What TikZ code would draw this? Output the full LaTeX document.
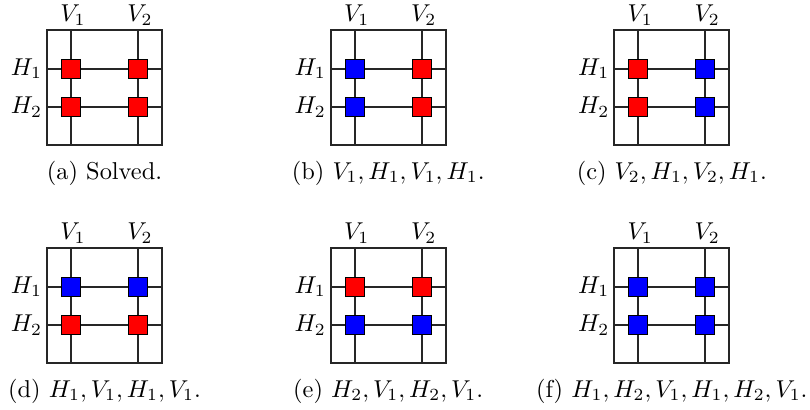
\documentclass[tikz,border=0pt]{standalone}
\begin{document}
\begin{tikzpicture}[x=0.41pt,y=-0.41pt,
  gridline/.style={line width=0.75pt,draw=black!85},
  cell/.style={draw=black,line width=0.4pt,minimum size=7.7pt,inner sep=0pt,anchor=center},
  lbl/.style={inner sep=0pt,anchor=base},
  hlbl/.style={inner sep=0pt,anchor=base east},
  captxt/.style={inner sep=0pt,anchor=base}]
\useasboundingbox (0,0) rectangle (810,409);
\newcommand\mypanel[7]{%
  \begin{scope}[shift={(#1,#2)}]
    \coordinate (#7fa) at (0,0);
    \coordinate (#7fb) at (115,115);
    \coordinate (#7v1t) at (24,0);  \coordinate (#7v1b) at (24,115);
    \coordinate (#7v2t) at (91,0);  \coordinate (#7v2b) at (91,115);
    \coordinate (#7h1l) at (0,38.3); \coordinate (#7h1r) at (115,38.3);
    \coordinate (#7h2l) at (0,76.7); \coordinate (#7h2r) at (115,76.7);
    \draw[gridline] (#7fa) rectangle (#7fb);
    \draw[gridline] (#7v1t) -- (#7v1b);
    \draw[gridline] (#7v2t) -- (#7v2b);
    \draw[gridline] (#7h1l) -- (#7h1r);
    \draw[gridline] (#7h2l) -- (#7h2r);
    \node[cell,fill=#3] (#7s11) at (24,38.3) {};
    \node[cell,fill=#4] (#7s12) at (91,38.3) {};
    \node[cell,fill=#5] (#7s21) at (24,76.7) {};
    \node[cell,fill=#6] (#7s22) at (91,76.7) {};
    \node[lbl] (#7lv1) at (26,-8.6) {$V_1$};
    \node[lbl] (#7lv2) at (93,-8.6) {$V_2$};
    \node[hlbl] (#7lh1) at (-4.5,44.9) {$H_1$};
    \node[hlbl] (#7lh2) at (-4.5,83.3) {$H_2$};
  \end{scope}}
\mypanel{47}{30.3}{red}{red}{red}{red}{a}
\mypanel{330.7}{30.3}{blue}{red}{blue}{red}{b}
\mypanel{614.3}{30.3}{red}{blue}{red}{blue}{c}
\mypanel{47}{248.3}{blue}{blue}{red}{red}{d}
\mypanel{330.7}{248.3}{red}{red}{blue}{blue}{e}
\mypanel{614.3}{248.3}{blue}{blue}{blue}{blue}{f}
\node[captxt] (capa) at (104.5,179) {(a) Solved.};
\node[captxt] (capb) at (388.2,179) {(b) $V_1, H_1, V_1, H_1$.};
\node[captxt] (capc) at (671.8,179) {(c) $V_2, H_1, V_2, H_1$.};
\node[captxt] (capd) at (104.5,397) {(d) $H_1, V_1, H_1, V_1$.};
\node[captxt] (cape) at (388.2,397) {(e) $H_2, V_1, H_2, V_1$.};
\node[captxt] (capf) at (671.8,397) {(f) $H_1, H_2, V_1, H_1, H_2, V_1$.};
\end{tikzpicture}
\end{document}
